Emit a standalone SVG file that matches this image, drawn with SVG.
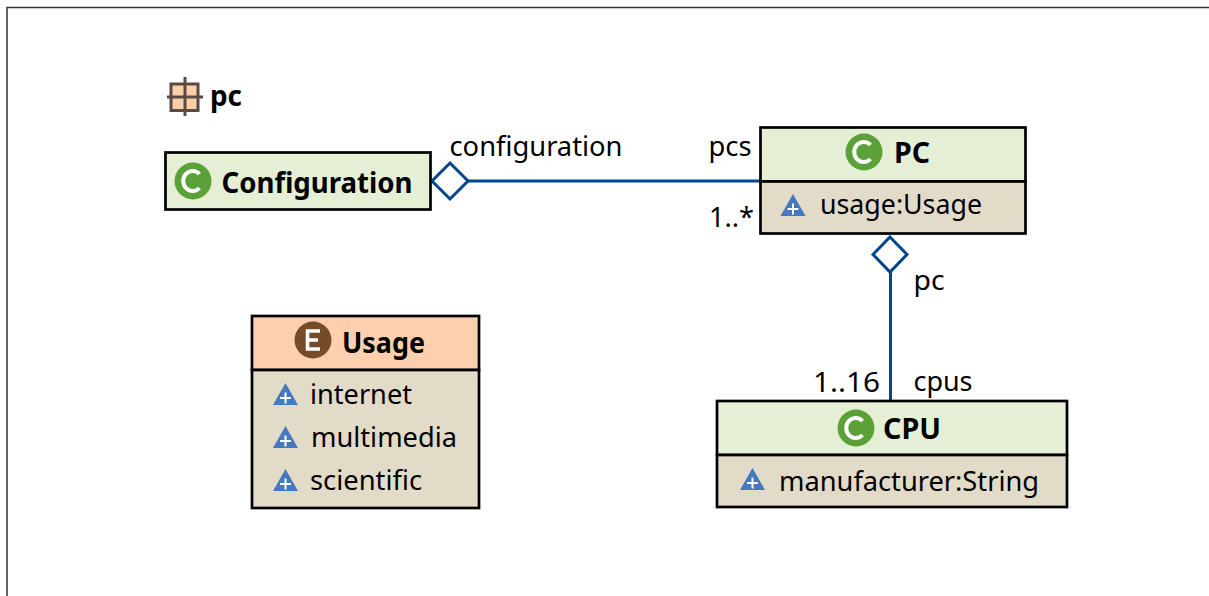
<svg xmlns="http://www.w3.org/2000/svg" width="1209" height="596" viewBox="0 0 1209 596">
<defs>
<g id="attr"><path d="M0 -13L12.500 9H-12.500Z" fill="#4478c0"/><path d="M-5.500 2H5.500M0 -3.500V7.500" stroke="#fff" stroke-width="2" fill="none"/></g>
<g id="cicon"><circle r="18.500" fill="#5ba138"/><path d="M6.500 -7A9.500 10 0 1 0 6.500 7" fill="none" stroke="#fff" stroke-width="4"/></g>
</defs>
<style>
text{font-family:"Noto Sans","Open Sans","Liberation Sans",sans-serif;fill:#000;font-size:27px}
.b{font-weight:700;font-size:28px}
.box{stroke:#000;stroke-width:2.700}
.head{fill:#e4efd6}
.body{fill:#e2dbc8}
.conn{fill:none;stroke:#00468c;stroke-width:3}
</style>
<rect width="1209" height="596" fill="#fff"/>
<path d="M7 596V7.500H1209" fill="none" stroke="#333" stroke-width="1.500"/>
<g id="package">
<rect x="171" y="84" width="27" height="26.500" fill="#fccfa9" stroke="#5a4a42" stroke-width="3"/>
<path d="M185 77V116M167 97H203" stroke="#5a4a42" stroke-width="3" fill="none"/>
<text class="b" x="210" y="106" textLength="32" lengthAdjust="spacingAndGlyphs">pc</text>
</g>
<g id="connectors">
<path class="conn" d="M468 181H761"/>
<path class="conn" d="M432 181L450 163L468 181L450 199Z" style="fill:#fff"/>
<path class="conn" d="M890.500 272V401"/>
<path class="conn" d="M890 237L907 254.500L890 272L873 254.500Z" style="fill:#fff"/>
</g>
<g id="labels">
<text x="449.500" y="156" textLength="173" lengthAdjust="spacingAndGlyphs">configuration</text>
<text x="708.500" y="156" textLength="43" lengthAdjust="spacingAndGlyphs">pcs</text>
<text x="709" y="226.500" textLength="45" lengthAdjust="spacingAndGlyphs">1..*</text>
<text x="913.500" y="290" textLength="31" lengthAdjust="spacingAndGlyphs">pc</text>
<text x="813" y="391.500" textLength="67" lengthAdjust="spacingAndGlyphs">1..16</text>
<text x="913.500" y="391" textLength="59" lengthAdjust="spacingAndGlyphs">cpus</text>
</g>
<g id="Configuration">
<rect class="box head" x="165.500" y="152.500" width="265" height="57"/>
<use href="#cicon" x="193" y="181"/>
<text class="b" x="221.500" y="193" textLength="191" lengthAdjust="spacingAndGlyphs">Configuration</text>
</g>
<g id="PC">
<rect class="box head" x="760.500" y="127.500" width="265" height="54"/>
<rect class="box body" x="760.500" y="181.500" width="265" height="52"/>
<use href="#cicon" x="864" y="152"/>
<text class="b" x="894" y="163" textLength="36" lengthAdjust="spacingAndGlyphs">PC</text>
<use href="#attr" x="793" y="207"/>
<text x="820" y="214" textLength="162" lengthAdjust="spacingAndGlyphs">usage:Usage</text>
</g>
<g id="Usage">
<rect class="box head" x="252" y="316" width="227" height="54" style="fill:#fecfae"/>
<rect class="box body" x="252" y="370" width="227" height="138"/>
<circle cx="313" cy="340" r="18.500" fill="#754c28"/>
<path d="M320 331H307.500V349H320M307.500 340H318" fill="none" stroke="#fff" stroke-width="3.600"/>
<text class="b" x="342" y="353" textLength="83" lengthAdjust="spacingAndGlyphs">Usage</text>
<use href="#attr" x="285.500" y="396"/>
<text x="310" y="404" textLength="102" lengthAdjust="spacingAndGlyphs">internet</text>
<use href="#attr" x="285.500" y="439"/>
<text x="311" y="447" textLength="146" lengthAdjust="spacingAndGlyphs">multimedia</text>
<use href="#attr" x="285.500" y="482"/>
<text x="310" y="490" textLength="112" lengthAdjust="spacingAndGlyphs">scientific</text>
</g>
<g id="CPU">
<rect class="box head" x="717" y="401" width="350" height="54"/>
<rect class="box body" x="717" y="455" width="350" height="52"/>
<use href="#cicon" x="856" y="428"/>
<text class="b" x="883" y="438.500" textLength="58" lengthAdjust="spacingAndGlyphs">CPU</text>
<use href="#attr" x="752.500" y="481"/>
<text x="779" y="491" textLength="260" lengthAdjust="spacingAndGlyphs">manufacturer:String</text>
</g>
</svg>
